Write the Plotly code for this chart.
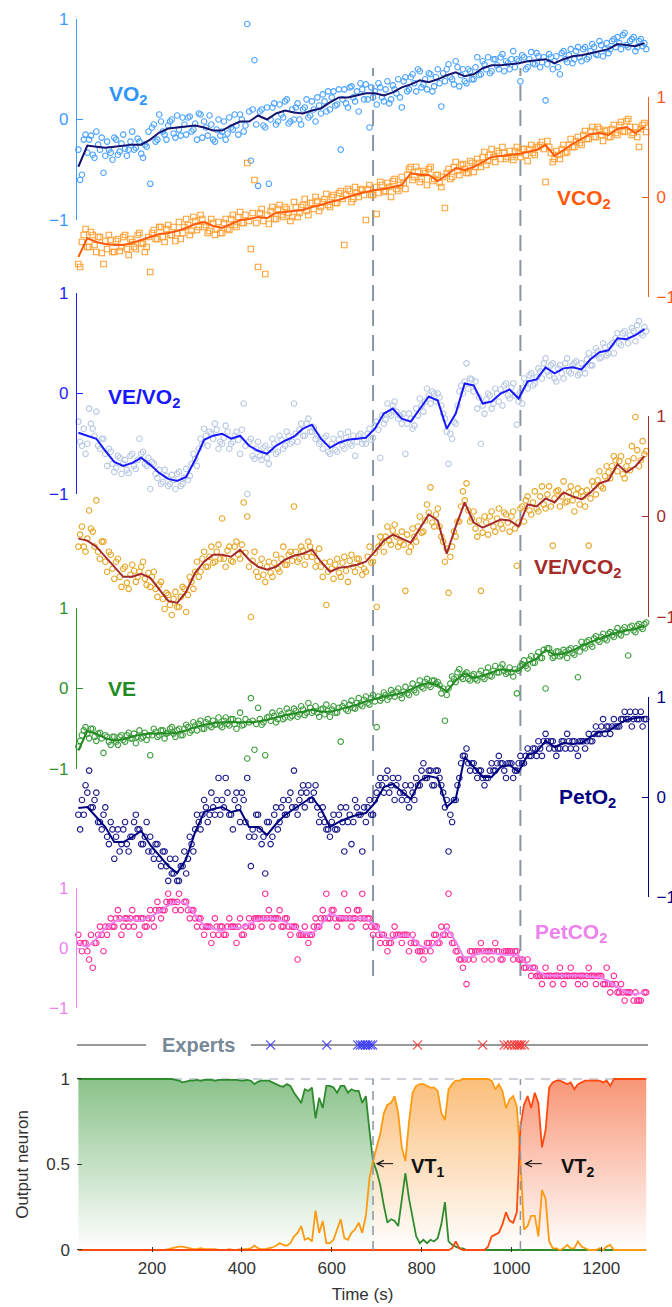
import plotly.graph_objects as go

# ---------------- time grids ----------------
T_PTS = list(range(36, 1301, 8))    # breath samples, set A (159)
T_PTS2 = list(range(40, 1297, 8))   # breath samples, set B (158)
T_LINE = list(range(36, 1297, 20))  # smoothed curves (64)
T_OUT = list(range(36, 1301, 8))    # output neurons (159)

# ---------------- VO2 ----------------
VO2_PTS = [
    -0.3, -0.55, -0.15, -0.2, -0.35, -0.12, -0.3, -0.53, -0.22, -0.33,
    -0.18, -0.35, -0.24, -0.29, -0.3, -0.12, -0.28, -0.22, -0.38, -0.27,
    -0.64, -0.05, -0.2, -0.02, -0.15, -0.06, 0.0, -0.18, -0.1, 0.02,
    -0.15, 0.03, -0.1, -0.2, 0.05, -0.02, -0.16, -0.05, -0.22, 0.0,
    -0.12, -0.2, 0.02, -0.1, -0.06, 0.05, -0.12, 0.95, -0.41, 0.59,
    -0.66, 0.1, -0.08, -0.64, 0.12, -0.05, 0.15, 0.02, 0.2, -0.02,
    0.0, 0.16, -0.05, 0.12, 0.02, 0.18, -0.02, 0.14, 0.25, 0.08,
    0.1, 0.28, 0.15, -0.3, 0.3, 0.12, 0.33, 0.18, 0.08, 0.3,
    0.35, -0.08, 0.22, 0.15, 0.32, 0.18, 0.38, 0.2, 0.3, 0.4,
    0.12, 0.42, 0.3, 0.45, 0.28, 0.48, 0.35, 0.3, 0.45, 0.33,
    0.5, 0.13, 0.38, 0.55, 0.4, 0.58, 0.33, 0.5, 0.36, 0.48,
    0.4, 0.62, 0.45, 0.55, 0.62, 0.48, 0.6, 0.5, 0.65, 0.58,
    0.5, 0.68, 0.6, 0.38, 0.62, 0.52, 0.67, 0.55, 0.63, 0.57,
    0.19, 0.65, 0.5, 0.63, 0.45, 0.68, 0.57, 0.7, 0.6, 0.72,
    0.58, 0.72, 0.62, 0.75, 0.65, 0.78, 0.63, 0.76, 0.7, 0.8,
    0.82, 0.7, 0.86, 0.72, 0.8, 0.68, 0.78, 0.73, 0.7]
VO2_PTS2 = [
    -0.6, -0.2, -0.33, -0.16, -0.38, -0.25, -0.18, -0.36, -0.3, -0.4,
    -0.2, -0.32, -0.15, -0.36, -0.22, -0.3, -0.19, -0.34, -0.25, -0.12,
    -0.08, -0.22, 0.05, -0.12, -0.2, -0.02, -0.14, 0.04, -0.16, -0.05,
    0.02, -0.12, -0.04, 0.06, -0.18, -0.08, 0.04, -0.2, -0.1, -0.16,
    -0.02, -0.14, -0.08, 0.05, -0.15, 0.0, -0.06, 0.08, 0.1, -0.05,
    0.08, -0.06, 0.12, 0.0, 0.16, -0.02, 0.05, 0.18, -0.04, 0.1,
    0.12, 0.0, 0.1, 0.2, 0.04, 0.1, 0.22, 0.06, 0.18, 0.28,
    0.22, 0.14, 0.3, 0.2, 0.16, 0.32, 0.22, 0.28, 0.36, 0.2,
    0.2, 0.32, 0.28, 0.36, 0.22, 0.3, 0.16, 0.34, 0.26, 0.22,
    0.38, 0.28, 0.42, 0.36, 0.5, 0.32, 0.4, 0.46, 0.28, 0.42,
    0.36, 0.46, 0.5, 0.42, 0.35, 0.52, 0.44, 0.38, 0.5, 0.4,
    0.52, 0.44, 0.58, 0.5, 0.46, 0.6, 0.54, 0.62, 0.48, 0.56,
    0.6, 0.52, 0.58, 0.64, 0.5, 0.6, 0.56, 0.66, 0.52, 0.62,
    0.55, 0.62, 0.58, 0.52, 0.66, 0.6, 0.64, 0.56, 0.68, 0.62,
    0.7, 0.6, 0.68, 0.72, 0.64, 0.74, 0.7, 0.66, 0.78, 0.72,
    0.76, 0.84, 0.74, 0.78, 0.82, 0.72, 0.8, 0.76]
VO2_LINE = [
    -0.47, -0.26, -0.27, -0.28, -0.27, -0.26, -0.25, -0.25, -0.2, -0.13,
    -0.09, -0.08, -0.07, -0.06, -0.08, -0.11, -0.11, -0.06, -0.02, -0.02,
    0.04, 0.0, 0.06, 0.09, 0.07, 0.06, 0.09, 0.11, 0.17, 0.22,
    0.22, 0.24, 0.26, 0.26, 0.24, 0.27, 0.32, 0.35, 0.39, 0.37,
    0.4, 0.44, 0.47, 0.43, 0.45, 0.51, 0.54, 0.54, 0.55, 0.56,
    0.58, 0.59, 0.6, 0.56, 0.6, 0.63, 0.64, 0.66, 0.68, 0.7,
    0.75, 0.74, 0.73, 0.76]

# ---------------- VCO2 ----------------
VCO2_PTS = [
    -0.67, -0.45, -0.32, -0.5, -0.38, -0.55, -0.4, -0.67, -0.52, -0.43,
    -0.55, -0.42, -0.5, -0.38, -0.58, -0.45, -0.52, -0.36, -0.47, -0.5,
    -0.75, -0.33, -0.42, -0.3, -0.45, -0.28, -0.38, -0.44, -0.25, -0.36,
    -0.22, -0.38, -0.2, -0.33, -0.18, -0.3, -0.36, -0.22, -0.38, -0.25,
    -0.36, -0.22, -0.33, -0.18, -0.3, -0.15, -0.26, 0.34, -0.52, 0.17,
    -0.7, -0.12, -0.77, -0.27, -0.1, -0.22, -0.08, -0.2, -0.12, -0.24,
    -0.05, -0.2, -0.1, -0.02, -0.18, -0.06, 0.0, -0.14, -0.05, 0.03,
    -0.1, 0.02, -0.06, 0.06, -0.48, 0.08, -0.05, 0.1, 0.0, 0.07,
    -0.23, 0.12, 0.02, -0.17, 0.15, 0.05, 0.14, 0.0, 0.18, 0.06,
    0.2, 0.08, 0.28, 0.17, 0.3, 0.15, 0.26, 0.12, 0.3, 0.18,
    0.22, 0.1, -0.11, 0.28, 0.2, 0.35, 0.22, 0.33, 0.24, 0.36,
    0.25, 0.38, 0.3, 0.45, 0.36, 0.48, 0.35, 0.44, 0.5, 0.38,
    0.46, 0.37, 0.5, 0.4, 0.48, 0.36, 0.52, 0.42, 0.5, 0.55,
    0.15, 0.5, 0.35, 0.46, 0.38, 0.52, 0.45, 0.58, 0.5, 0.6,
    0.52, 0.66, 0.58, 0.7, 0.6, 0.68, 0.56, 0.67, 0.6, 0.72,
    0.62, 0.75, 0.65, 0.78, 0.62, 0.7, 0.5, 0.72, 0.65]
VCO2_PTS2 = [
    -0.7, -0.38, -0.5, -0.35, -0.48, -0.4, -0.56, -0.44, -0.38, -0.55,
    -0.44, -0.54, -0.4, -0.52, -0.42, -0.5, -0.38, -0.46, -0.55, -0.4,
    -0.36, -0.42, -0.3, -0.4, -0.32, -0.38, -0.3, -0.36, -0.42, -0.3,
    -0.28, -0.34, -0.24, -0.3, -0.22, -0.28, -0.34, -0.26, -0.32, -0.36,
    -0.26, -0.32, -0.22, -0.28, -0.2, -0.26, -0.18, -0.24, -0.16, -0.26,
    -0.16, -0.24, -0.18, -0.14, -0.22, -0.12, -0.18, -0.1, -0.16, -0.2,
    -0.1, -0.16, -0.08, -0.14, -0.06, -0.12, -0.04, -0.1, -0.02, -0.08,
    0.0, -0.06, 0.04, -0.02, 0.02, 0.06, -0.02, 0.04, 0.08, 0.02,
    0.08, 0.02, 0.1, 0.04, 0.12, 0.06, 0.1, 0.16, 0.08, 0.12,
    0.14, 0.22, 0.3, 0.2, 0.26, 0.18, 0.24, 0.28, 0.16, 0.22,
    0.14, 0.2, 0.24, 0.18, 0.3, 0.26, 0.32, 0.28, 0.24, 0.34,
    0.3, 0.34, 0.4, 0.32, 0.42, 0.4, 0.46, 0.38, 0.44, 0.4,
    0.4, 0.46, 0.44, 0.48, 0.42, 0.48, 0.44, 0.5, 0.52, 0.48,
    0.56, 0.44, 0.38, 0.42, 0.48, 0.44, 0.52, 0.5, 0.56, 0.54,
    0.62, 0.58, 0.66, 0.6, 0.7, 0.62, 0.66, 0.6, 0.68, 0.64,
    0.72, 0.66, 0.76, 0.7, 0.64, 0.6, 0.68, 0.74]
VCO2_LINE = [
    -0.6, -0.41, -0.45, -0.47, -0.48, -0.48, -0.46, -0.43, -0.4, -0.37,
    -0.36, -0.34, -0.31, -0.27, -0.25, -0.29, -0.31, -0.27, -0.23, -0.22,
    -0.2, -0.21, -0.16, -0.15, -0.14, -0.13, -0.1, -0.08, -0.05, -0.03,
    0.0, 0.03, 0.05, 0.07, 0.08, 0.1, 0.12, 0.24, 0.22, 0.22,
    0.16, 0.22, 0.29, 0.27, 0.3, 0.35, 0.4, 0.41, 0.42, 0.43,
    0.45, 0.47, 0.52, 0.41, 0.47, 0.53, 0.58, 0.63, 0.64, 0.62,
    0.68, 0.7, 0.64, 0.7]

# ---------------- VE/VO2 ----------------
VEVO2_PTS = [
    -0.28, -0.52, -0.6, -0.15, -0.35, -0.18, -0.55, -0.45, -0.72, -0.58,
    -0.78, -0.62, -0.8, -0.66, -0.79, -0.6, -0.75, -0.45, -0.58, -0.72,
    -0.95, -0.7, -0.84, -0.9, -0.76, -0.92, -0.81, -0.95, -0.78, -0.9,
    -0.75, -0.82, -0.6, -0.72, -0.45, -0.35, -0.52, -0.4, -0.3, -0.55,
    -0.5, -0.32, -0.55, -0.48, -0.38, -0.6, -0.1, -1.0, -0.45, -0.65,
    -0.48, -0.66, -0.52, -0.7, -0.45, -0.6, -0.42, -0.55, -0.38, -0.5,
    -0.1, -0.48, -0.3, -0.42, -0.25, -0.38, -0.45, -0.5, -0.55, -0.42,
    -0.6, -0.45, -0.58, -0.4, -0.55, -0.38, -0.52, -0.62, -0.42, -0.5,
    -0.5, -0.35, -0.44, -0.28, -0.64, -0.3, -0.1, -0.22, -0.08, -0.25,
    -0.3, -0.6, -0.2, -0.35, -0.15, -0.05, -0.18, 0.05, -0.1, 0.0,
    0.0, -0.12, -0.25, -0.7, -0.45, -0.3, 0.02, 0.0, 0.3, 0.15,
    0.02, -0.15, -0.5, -0.2, 0.0, -0.15, 0.05, -0.08, -0.12, 0.1,
    -0.05, 0.1, -0.31, 0.02, 0.15, 0.05, 0.2, 0.1, 0.25, 0.15,
    0.35, 0.18, 0.3, 0.12, 0.28, 0.15, 0.35, 0.2, 0.3, 0.18,
    0.3, 0.2, 0.4, 0.28, 0.45, 0.35, 0.5, 0.38, 0.48, 0.4,
    0.6, 0.48, 0.62, 0.5, 0.65, 0.52, 0.72, 0.58, 0.62]
VEVO2_PTS2 = [
    -0.48, -0.35, -0.5, -0.3, -0.42, -0.52, -0.45, -0.6, -0.55, -0.7,
    -0.74, -0.64, -0.7, -0.76, -0.62, -0.72, -0.66, -0.6, -0.7, -0.64,
    -0.68, -0.8, -0.76, -0.88, -0.82, -0.9, -0.86, -0.8, -0.92, -0.84,
    -0.86, -0.7, -0.65, -0.55, -0.5, -0.42, -0.38, -0.45, -0.36, -0.48,
    -0.44, -0.38, -0.5, -0.42, -0.46, -0.36, -0.52, -0.48, -0.62, -0.55,
    -0.62, -0.54, -0.64, -0.56, -0.5, -0.58, -0.46, -0.52, -0.42, -0.48,
    -0.4, -0.36, -0.42, -0.3, -0.38, -0.34, -0.42, -0.48, -0.44, -0.58,
    -0.5, -0.56, -0.46, -0.52, -0.44, -0.5, -0.42, -0.48, -0.4, -0.46,
    -0.4, -0.46, -0.32, -0.36, -0.22, -0.26, -0.2, -0.12, -0.18, -0.22,
    -0.2, -0.3, -0.25, -0.32, -0.22, -0.12, -0.08, -0.02, 0.02, -0.08,
    -0.04, -0.2, -0.38, -0.4, -0.28, -0.12, 0.08, 0.12, 0.05, 0.14,
    0.12, -0.04, -0.12, -0.06, -0.02, -0.1, 0.0, 0.04, 0.08, -0.02,
    0.06, -0.02, -0.08, -0.1, 0.1, 0.18, 0.08, 0.16, 0.22, 0.3,
    0.22, 0.28, 0.15, 0.25, 0.2, 0.3, 0.22, 0.28, 0.32, 0.2,
    0.25, 0.34, 0.28, 0.38, 0.42, 0.36, 0.46, 0.4, 0.5, 0.55,
    0.5, 0.6, 0.55, 0.58, 0.62, 0.68, 0.6, 0.66]
VEVO2_LINE = [
    -0.39, -0.42, -0.45, -0.57, -0.68, -0.72, -0.69, -0.64, -0.71, -0.79,
    -0.85, -0.87, -0.83, -0.66, -0.46, -0.42, -0.4, -0.45, -0.42, -0.52,
    -0.57, -0.6, -0.52, -0.47, -0.43, -0.35, -0.31, -0.45, -0.54, -0.49,
    -0.46, -0.45, -0.44, -0.35, -0.2, -0.15, -0.25, -0.28, -0.15, -0.03,
    -0.07, -0.35, -0.2, 0.1, 0.08, -0.1, -0.08, 0.0, 0.04, -0.05,
    0.12, 0.14, 0.26, 0.2, 0.25, 0.26, 0.24, 0.34, 0.41, 0.43,
    0.55, 0.54, 0.58, 0.64]

# ---------------- VE/VCO2 ----------------
VEVCO2_PTS = [
    -0.3, -0.1, -0.35, 0.06, -0.15, 0.16, -0.42, -0.25, -0.55, -0.38,
    -0.62, -0.42, -0.7, -0.5, -0.72, -0.48, -0.65, -0.55, -0.45, -0.68,
    -0.7, -0.55, -0.8, -0.65, -0.92, -0.78, -0.98, -0.75, -0.9, -0.7,
    -0.95, -0.6, -0.72, -0.45, -0.55, -0.35, -0.5, -0.3, -0.45, -0.28,
    -0.02, -0.5, -0.3, -0.45, -0.25, -0.42, 0.14, 0.0, -1.0, -0.35,
    -0.6, -0.42, -0.65, -0.45, -0.6, -0.38, -0.55, -0.3, -0.48, -0.35,
    0.1, -0.45, -0.3, -0.48, -0.25, -0.4, -0.5, -0.32, -0.6, -0.88,
    -0.45, -0.62, -0.42, -0.6, -0.4, -0.65, -0.38, -0.55, -0.42, -0.58,
    -0.55, -0.3, -0.45, -0.9, -0.2, -0.35, -0.1, -0.28, -0.08, -0.3,
    -0.15, -0.74, -0.35, -0.12, -0.25, 0.0, -0.15, 0.12, 0.29, -0.1,
    0.08, -0.2, -0.45, -0.76, -0.3, -0.2, -0.05, 0.25, 0.33, -0.05,
    0.05, -0.2, -0.74, 0.0, -0.18, 0.05, -0.15, 0.08, -0.12, 0.02,
    -0.15, 0.05, -0.49, 0.08, -0.05, 0.2, 0.02, 0.25, 0.05, 0.3,
    0.08, 0.3, -0.29, 0.25, 0.1, 0.35, 0.15, 0.3, 0.05, 0.28,
    0.25, 0.1, -0.29, 0.35, 0.22, 0.45, 0.28, 0.5, 0.38, 0.6,
    0.45, 0.6, 0.38, 0.55, 0.7, 0.99, 0.5, 0.75, 0.65]
VEVCO2_PTS2 = [
    -0.18, -0.3, -0.22, -0.12, -0.3, -0.35, -0.25, -0.45, -0.35, -0.52,
    -0.45, -0.6, -0.52, -0.66, -0.58, -0.54, -0.6, -0.5, -0.62, -0.56,
    -0.6, -0.72, -0.68, -0.82, -0.76, -0.88, -0.82, -0.9, -0.8, -0.72,
    -0.78, -0.65, -0.55, -0.6, -0.42, -0.5, -0.4, -0.46, -0.35, -0.42,
    -0.42, -0.34, -0.44, -0.3, -0.38, -0.28, -0.36, -0.5, -0.44, -0.55,
    -0.48, -0.58, -0.5, -0.56, -0.46, -0.52, -0.42, -0.48, -0.38, -0.44,
    -0.35, -0.42, -0.34, -0.4, -0.3, -0.36, -0.44, -0.5, -0.46, -0.55,
    -0.52, -0.48, -0.56, -0.46, -0.54, -0.44, -0.5, -0.42, -0.48, -0.52,
    -0.4, -0.46, -0.36, -0.3, -0.26, -0.2, -0.24, -0.14, -0.2, -0.26,
    -0.28, -0.18, -0.3, -0.2, -0.1, -0.16, -0.04, 0.04, -0.06, 0.02,
    -0.1, -0.25, -0.32, -0.4, -0.15, -0.05, 0.1, 0.16, 0.06, -0.02,
    -0.12, -0.04, -0.16, -0.06, 0.0, -0.1, -0.02, -0.08, 0.04, -0.06,
    0.0, -0.12, -0.06, 0.1, 0.16, 0.06, 0.14, 0.08, 0.2, 0.12,
    0.22, 0.1, 0.18, 0.26, 0.2, 0.14, 0.24, 0.16, 0.22, 0.12,
    0.2, 0.26, 0.18, 0.3, 0.36, 0.3, 0.4, 0.44, 0.5, 0.56,
    0.55, 0.42, 0.5, 0.46, 0.58, 0.66, 0.56, 0.62]
VEVCO2_LINE = [
    -0.22, -0.24, -0.3, -0.4, -0.5, -0.6, -0.6, -0.57, -0.61, -0.72,
    -0.84, -0.86, -0.75, -0.56, -0.45, -0.38, -0.38, -0.4, -0.33, -0.43,
    -0.5, -0.53, -0.5, -0.43, -0.39, -0.37, -0.33, -0.45, -0.55, -0.51,
    -0.5, -0.48, -0.45, -0.35, -0.24, -0.18, -0.22, -0.26, -0.12, 0.02,
    -0.04, -0.37, -0.1, 0.14, -0.06, -0.11, -0.07, -0.03, -0.04, -0.1,
    0.12, 0.1, 0.18, 0.14, 0.24, 0.2, 0.17, 0.24, 0.33, 0.36,
    0.52, 0.44, 0.5, 0.6]

# ---------------- VE ----------------
VE_PTS = [
    -0.72, -0.58, -0.48, -0.62, -0.5, -0.65, -0.55, -0.8, -0.6, -0.7,
    -0.6, -0.7, -0.58, -0.66, -0.55, -0.62, -0.68, -0.52, -0.6, -0.64,
    -0.83, -0.5, -0.6, -0.52, -0.62, -0.55, -0.48, -0.6, -0.5, -0.58,
    -0.45, -0.55, -0.42, -0.52, -0.4, -0.5, -0.38, -0.48, -0.45, -0.36,
    -0.48, -0.36, -0.46, -0.38, -0.5, -0.3, -0.45, -0.87, -0.12, -0.76,
    -0.24, -0.45, -0.83, -0.35, -0.3, -0.42, -0.28, -0.38, -0.25, -0.36,
    -0.25, -0.35, -0.22, -0.33, -0.18, -0.3, -0.22, -0.35, -0.25, -0.2,
    -0.35, -0.22, -0.3, -0.66, -0.18, -0.28, -0.15, -0.25, -0.12, -0.22,
    -0.1, -0.2, -0.08, -0.48, -0.15, -0.05, -0.14, -0.02, -0.1, 0.0,
    -0.12, 0.02, -0.08, 0.06, -0.05, 0.1, 0.0, 0.12, 0.02, 0.1,
    0.08, -0.06, -0.4, 0.0, 0.15, 0.08, 0.24, 0.12, 0.2, 0.1,
    0.18, 0.1, 0.22, 0.12, 0.26, 0.15, 0.28, 0.2, 0.3, 0.18,
    0.26, 0.15, -0.06, 0.28, 0.35, 0.25, 0.4, 0.32, 0.45, 0.38,
    0.0, 0.5, 0.38, 0.46, 0.4, 0.48, 0.38, 0.5, 0.42, 0.14,
    0.58, 0.5, 0.6, 0.52, 0.65, 0.58, 0.68, 0.6, 0.7, 0.64,
    0.75, 0.66, 0.76, 0.41, 0.78, 0.7, 0.8, 0.74, 0.82]
VE_PTS2 = [
    -0.65, -0.52, -0.56, -0.5, -0.6, -0.56, -0.62, -0.58, -0.66, -0.6,
    -0.66, -0.6, -0.64, -0.58, -0.62, -0.56, -0.6, -0.62, -0.55, -0.58,
    -0.58, -0.54, -0.58, -0.52, -0.56, -0.5, -0.56, -0.52, -0.58, -0.5,
    -0.48, -0.52, -0.46, -0.44, -0.5, -0.42, -0.46, -0.4, -0.44, -0.46,
    -0.4, -0.44, -0.38, -0.44, -0.4, -0.46, -0.38, -0.42, -0.4, -0.44,
    -0.38, -0.42, -0.36, -0.4, -0.34, -0.38, -0.32, -0.36, -0.3, -0.34,
    -0.28, -0.32, -0.26, -0.3, -0.24, -0.28, -0.3, -0.26, -0.32, -0.28,
    -0.26, -0.3, -0.24, -0.22, -0.26, -0.2, -0.24, -0.18, -0.2, -0.14,
    -0.18, -0.12, -0.16, -0.1, -0.12, -0.08, -0.1, -0.06, -0.04, -0.08,
    -0.04, -0.06, 0.0, -0.02, 0.04, 0.02, 0.08, 0.04, 0.1, 0.06,
    0.04, 0.0, -0.08, 0.06, 0.12, 0.2, 0.14, 0.18, 0.12, 0.16,
    0.12, 0.18, 0.14, 0.2, 0.16, 0.22, 0.2, 0.26, 0.22, 0.2,
    0.2, 0.24, 0.22, 0.3, 0.28, 0.36, 0.32, 0.4, 0.38, 0.48,
    0.5, 0.44, 0.4, 0.46, 0.42, 0.45, 0.48, 0.44, 0.5, 0.46,
    0.52, 0.58, 0.55, 0.62, 0.6, 0.64, 0.62, 0.68, 0.66, 0.7,
    0.68, 0.73, 0.7, 0.76, 0.72, 0.78, 0.76, 0.8]
VE_LINE = [
    -0.77, -0.53, -0.56, -0.62, -0.65, -0.63, -0.6, -0.57, -0.56, -0.56,
    -0.56, -0.55, -0.52, -0.48, -0.45, -0.43, -0.42, -0.42, -0.42, -0.42,
    -0.41, -0.39, -0.36, -0.33, -0.31, -0.29, -0.26, -0.29, -0.29, -0.26,
    -0.23, -0.2, -0.16, -0.13, -0.1, -0.08, -0.06, -0.01, 0.04, 0.07,
    0.04, -0.04, 0.1, 0.19, 0.13, 0.16, 0.2, 0.24, 0.22, 0.22,
    0.32, 0.37, 0.48, 0.42, 0.43, 0.47, 0.53, 0.58, 0.62, 0.66,
    0.7, 0.72, 0.74, 0.78]

# ---------------- PetO2 (quantised: level index) ----------------
PETO2_LEVEL0 = -0.03
PETO2_STEP = 0.0735
PETO2_LEVELS = [
    -2, 0, 2, 4, -1, 1, -3, -2, -5, -3,
    -8, -4, -6, -3, -7, -5, -2, -4, -6, -3,
    -5, -8, -6, -9, -7, -11, -10, -8, -11, -9,
    -10, -5, -7, -2, -4, 0, -3, 1, -2, 3,
    0, 3, -2, -4, 1, -3, 0, 3, -9, -5,
    -2, -6, -10, -3, -5, -1, -3, 0, -2, 1,
    4, -2, 1, -1, 2, 0, 2, -3, -1, -4,
    -5, -2, -4, -1, -7, -3, -6, 0, -2, -7,
    -3, 0, -2, 1, 3, 1, 4, 2, 0, 3,
    0, 2, -1, 1, 3, 2, 5, 3, 4, 2,
    4, 2, -1, -7, -3, 0, 3, 6, 7, 4,
    5, 3, 4, 2, 3, 5, 4, 6, 5, 3,
    5, 3, 4, 6, 5, 7, 6, 7, 8, 6,
    9, 7, 8, 6, 7, 8, 9, 7, 8, 6,
    8, 7, 9, 8, 10, 9, 11, 10, 9, 11,
    10, 11, 12, 11, 10, 12, 11, 10, 11]
PETO2_LEVELS2 = [
    -4, -2, 1, -1, 0, -3, -4, -1, -6, -4,
    -5, -7, -4, -6, -5, -3, -4, -6, -5, -7,
    -7, -6, -8, -7, -9, -8, -10, -11, -9, -7,
    -8, -6, -4, -3, -2, -1, -2, -1, 0, -2,
    -1, 1, -2, 0, -1, 1, -3, -5, -4, -2,
    -4, -5, -3, -6, -2, -4, -1, -2, 0, -1,
    -1, 0, 2, 1, 0, 1, -1, -2, -3, -4,
    -3, -4, -2, -3, -1, -2, -3, -1, -2, -1,
    -1, -2, 0, 2, 2, 3, 1, 3, 2, 1,
    1, 0, 2, 0, 2, 4, 3, 4, 2, 4,
    3, 1, 0, -2, 0, 2, 5, 6, 5, 5,
    4, 4, 3, 3, 4, 4, 5, 5, 4, 5,
    5, 4, 5, 5, 6, 6, 7, 6, 7, 8,
    8, 8, 7, 7, 8, 7, 8, 8, 7, 8,
    8, 8, 8, 9, 9, 10, 9, 10, 10, 10,
    10, 11, 11, 12, 11, 11, 12, 11]
PETO2_LINE = [
    -0.11, -0.1, -0.2, -0.3, -0.45, -0.45, -0.4, -0.34, -0.48, -0.59,
    -0.69, -0.76, -0.62, -0.35, -0.15, -0.12, -0.1, -0.15, -0.13, -0.3,
    -0.3, -0.38, -0.27, -0.18, -0.12, -0.06, 0.0, -0.12, -0.3, -0.25,
    -0.21, -0.18, -0.16, -0.06, 0.1, 0.13, 0.05, -0.02, 0.16, 0.21,
    0.19, -0.1, -0.02, 0.4, 0.3, 0.2, 0.2, 0.3, 0.32, 0.25,
    0.42, 0.45, 0.56, 0.5, 0.54, 0.53, 0.54, 0.6, 0.65, 0.66,
    0.72, 0.77, 0.79, 0.8]

# ---------------- PetCO2 (quantised: level index) ----------------
PETCO2_LEVEL0 = 0.083
PETCO2_STEP = 0.137
PETCO2_LEVELS = [
    1, -1, 0, -2, -3, 0, 2, -1, 1, 3,
    2, 4, 1, 3, 2, 4, 3, 1, 3, 2,
    4, 2, 5, 3, 4, 6, 5, 4, 6, 7,
    5, 3, 4, 2, 3, 1, 2, 0, 3, 1,
    2, 1, 3, 2, 0, 3, 1, 7, 2, 3,
    3, 2, 6, 4, 2, 3, 4, 2, 3, 1,
    2, -2, 1, 2, 0, 1, 3, 2, 4, 6,
    3, 4, 2, 3, 6, 4, 2, 3, 4, 6,
    2, 3, 1, 2, 0, 1, -1, 0, 2, 1,
    0, 1, -1, 1, 0, -1, -2, 0, -1, 1,
    0, 2, 1, 6, 0, -1, -2, -3, -5, -1,
    -2, -1, 0, -2, -1, -2, 0, -1, -2, -1,
    -1, -2, -1, -2, -3, -2, -4, -3, -4, -5,
    -3, -4, -5, -4, -3, -5, -4, -3, -4, -5,
    -4, -5, -3, -4, -5, -4, -5, -3, -6, -4,
    -6, -5, -7, -6, -8, -6, -7, -8, -6]
PETCO2_LEVELS2 = [
    0, 0, -1, 1, 0, 1, 1, 2, 2, 2,
    3, 3, 2, 3, 3, 2, 3, 3, 2, 3,
    3, 4, 4, 4, 5, 5, 5, 5, 4, 5,
    4, 4, 3, 3, 2, 2, 2, 1, 2, 2,
    1, 2, 2, 2, 2, 1, 2, 3, 2, 3,
    3, 3, 3, 3, 3, 3, 2, 3, 2, 2,
    2, 1, 1, 1, 1, 2, 2, 3, 3, 3,
    4, 3, 3, 3, 3, 3, 3, 4, 3, 3,
    3, 2, 2, 1, 1, 0, 0, 1, 1, 1,
    1, 1, 0, 0, -1, -1, -1, 0, 0, 1,
    0, 1, 2, 1, 0, -1, -2, -2, -2, -1,
    -1, -1, -1, -1, -1, -1, -1, -2, -1, -1,
    -1, -1, -2, -2, -3, -3, -3, -4, -4, -4,
    -4, -4, -4, -4, -4, -4, -4, -4, -4, -4,
    -4, -4, -4, -4, -4, -4, -5, -5, -5, -5,
    -6, -6, -6, -6, -7, -7, -7, -6]
PETCO2_LINE = [
    0.08, 0.015, 0.15, 0.33, 0.44, 0.49, 0.47, 0.45, 0.52, 0.6,
    0.71, 0.77, 0.74, 0.56, 0.37, 0.32, 0.29, 0.34, 0.33, 0.4,
    0.47, 0.49, 0.48, 0.44, 0.34, 0.26, 0.23, 0.38, 0.58, 0.52,
    0.49, 0.49, 0.49, 0.38, 0.18, 0.15, 0.21, 0.19, 0.04, -0.01,
    0.11, 0.33, 0.11, -0.19, -0.12, -0.07, -0.07, -0.11, -0.11, -0.12,
    -0.29, -0.37, -0.46, -0.46, -0.46, -0.46, -0.46, -0.48, -0.49, -0.55,
    -0.66, -0.73, -0.77, -0.74]

# ---------------- Experts ----------------
EXPERT_VT1 = [464, 589, 658, 664, 669, 675, 680, 686, 691]
EXPERT_VT2 = [791, 936, 984, 992, 1000, 1007, 1013, 1018, 1022, 1029]

# ---------------- Output neurons ----------------
OUT_GREEN = [
    1, 1, 1, 1, 1, 1, 1, 1, 1, 1,
    1, 1, 1, 1, 1, 1, 1, 1, 1, 1,
    1, 1, 1, 1, 1, 1, 1, 0.995, 0.99, 0.98,
    0.985, 0.99, 0.99, 0.995, 0.99, 0.995, 0.995, 0.995, 0.99, 0.995,
    0.995, 0.995, 0.995, 0.995, 0.995, 0.99, 0.99, 0.995, 0.99, 0.97,
    0.985, 0.99, 0.99, 0.99, 0.98, 0.97, 0.96, 0.955, 0.97, 0.96,
    0.92, 0.89, 0.86, 0.94, 0.93, 0.95, 0.77, 0.89, 0.83, 0.96,
    0.96, 0.95, 0.92, 0.96, 0.96, 0.92, 0.94, 0.93, 0.93, 0.86,
    0.9, 0.7, 0.52, 0.46, 0.38, 0.26, 0.16, 0.18, 0.17, 0.14,
    0.3, 0.45, 0.3, 0.18, 0.08, 0.04, 0.06, 0.04, 0.06, 0.05,
    0.07, 0.15, 0.28, 0.05, 0.03, 0.02, 0.01, 0.01, 0.0, 0.0,
    0, 0, 0, 0, 0, 0, 0, 0, 0, 0,
    0, 0, 0, 0, 0, 0, 0, 0, 0, 0,
    0, 0, 0, 0, 0, 0, 0, 0, 0, 0,
    0, 0, 0, 0, 0, 0, 0, 0, 0, 0,
    0, 0, 0, 0, 0, 0, 0, 0, 0]
OUT_ORANGE = [
    0, 0, 0, 0, 0, 0, 0, 0, 0, 0,
    0, 0, 0, 0, 0, 0, 0, 0, 0, 0,
    0, 0, 0, 0, 0, 0.005, 0.01, 0.015, 0.02, 0.02,
    0.015, 0.01, 0.005, 0.005, 0.01, 0.005, 0.005, 0.005, 0.005, 0.0,
    0.0, 0.0, 0.005, 0.0, 0.0, 0.005, 0.005, 0.005, 0.01, 0.025,
    0.01, 0.005, 0.005, 0.01, 0.015, 0.025, 0.04, 0.03, 0.025, 0.04,
    0.08, 0.1, 0.14, 0.06, 0.07, 0.05, 0.23, 0.1, 0.17, 0.04,
    0.04, 0.06, 0.12, 0.18, 0.07, 0.06, 0.1, 0.12, 0.16, 0.1,
    0.2, 0.42, 0.52, 0.6, 0.68, 0.8, 0.85, 0.86, 0.9, 0.8,
    0.6, 0.52, 0.75, 0.92, 0.96, 0.97, 0.97, 0.96, 0.95, 0.95,
    0.93, 0.8, 0.76, 0.94, 0.97, 0.99, 0.99, 1.0, 1.0, 1.0,
    1.0, 1.0, 1.0, 1.0, 1.0, 0.99, 0.94, 0.97, 0.93, 0.83,
    0.88, 0.9, 0.84, 0.53, 0.12, 0.14, 0.2, 0.2, 0.08, 0.35,
    0.3, 0.05, 0.01, 0.01, 0.0, 0.01, 0.03, 0.01, 0.01, 0.05,
    0.02, 0.01, 0.0, 0.0, 0.0, 0.01, 0.0, 0.02, 0.03, 0.0,
    0, 0, 0, 0, 0, 0, 0, 0, 0]
OUT_RED = [
    0, 0, 0, 0, 0, 0, 0, 0, 0, 0,
    0, 0, 0, 0, 0, 0, 0, 0, 0, 0,
    0, 0, 0, 0, 0, 0, 0, 0, 0, 0,
    0, 0, 0, 0, 0, 0, 0, 0, 0, 0,
    0, 0, 0, 0, 0, 0, 0, 0, 0, 0,
    0, 0, 0, 0, 0, 0, 0, 0, 0, 0,
    0, 0, 0, 0, 0, 0, 0, 0, 0, 0,
    0, 0, 0, 0, 0, 0, 0, 0, 0, 0,
    0, 0, 0, 0, 0, 0, 0, 0, 0, 0,
    0, 0, 0, 0, 0, 0, 0, 0, 0, 0,
    0, 0, 0, 0, 0.01, 0.05, 0.01, 0, 0, 0,
    0, 0, 0, 0, 0.02, 0.08, 0.09, 0.1, 0.15, 0.22,
    0.17, 0.16, 0.22, 0.72, 0.85, 0.9, 0.83, 0.92, 0.86, 0.6,
    0.7, 0.95, 0.98, 0.99, 0.99, 0.98, 0.97, 0.98, 0.94, 0.97,
    0.98, 0.99, 0.99, 0.99, 0.99, 0.99, 0.98, 0.99, 0.96, 1.0,
    1.0, 1.0, 1.0, 1.0, 1.0, 1.0, 1.0, 1.0, 1.0]

VT1 = 692
VT2 = 1020
X_RANGE = [33, 1304]

# ---------------- layout helpers ----------------
W, H = 672, 1307
FONT = "Liberation Sans, Arial, sans-serif"


def fx(px):
    return px / W


def fy(py):
    return 1 - py / H


XDOM = [fx(77), fx(648)]


def yspec(top_px, bot_px, side, color):
    return dict(domain=[fy(bot_px), fy(top_px)], range=[-1, 1], side=side, anchor="x",
                automargin=False,
                showline=True, linecolor=color, linewidth=1.3, ticks="inside", ticklen=6,
                tickwidth=1.3, tickcolor=color, tickvals=[-1, 0, 1], ticktext=["\u22121", "0", "1"],
                tickfont=dict(color=color, size=17, family=FONT), showgrid=False, zeroline=False,
                ticklabelstandoff=4)


fig = go.Figure()

series = [
    # pts A, pts B, line, yaxis, marker symbol, marker color, line color
    (VO2_PTS, VO2_PTS2, VO2_LINE, "y", "circle-open", "#4aa3ff", "#14146e"),
    (VCO2_PTS, VCO2_PTS2, VCO2_LINE, "y2", "square-open", "#ffa035", "#ff5a0a"),
    (VEVO2_PTS, VEVO2_PTS2, VEVO2_LINE, "y3", "circle-open", "#b9c9e2", "#1818ff"),
    (VEVCO2_PTS, VEVCO2_PTS2, VEVCO2_LINE, "y4", "circle-open", "#e6a628", "#a52a2a"),
    (VE_PTS, VE_PTS2, VE_LINE, "y5", "circle-open", "#3e9e3e", "#228b22"),
    ([PETO2_LEVEL0 + PETO2_STEP * k for k in PETO2_LEVELS],
     [PETO2_LEVEL0 + PETO2_STEP * k for k in PETO2_LEVELS2], PETO2_LINE, "y6", "circle-open", "#1c1c8c", "#000080"),
    ([PETCO2_LEVEL0 + PETCO2_STEP * k for k in PETCO2_LEVELS],
     [PETCO2_LEVEL0 + PETCO2_STEP * k for k in PETCO2_LEVELS2], PETCO2_LINE, "y7", "circle-open", "#ff2f9a", "#ee82ee"),
]
for pa, pb, line, ya, sym, mc, lc in series:
    fig.add_trace(go.Scatter(x=T_PTS + T_PTS2, y=pa + pb, xaxis="x", yaxis=ya, mode="markers", cliponaxis=False,
                             marker=dict(symbol=sym, size=5.5, color=mc, line=dict(width=1.1, color=mc)),
                             hoverinfo="skip"))
for pa, pb, line, ya, sym, mc, lc in series:
    fig.add_trace(go.Scatter(x=T_LINE, y=line, xaxis="x", yaxis=ya, mode="lines",
                             line=dict(color=lc, width=2), hoverinfo="skip"))

# experts
fig.add_trace(go.Scatter(x=EXPERT_VT1, y=[0] * len(EXPERT_VT1), xaxis="x", yaxis="y9", mode="markers",
                         cliponaxis=False,
                         marker=dict(symbol="x-thin-open", size=9, color="rgba(40,40,255,0.75)",
                                     line=dict(width=1.3, color="rgba(40,40,255,0.75)"))))
fig.add_trace(go.Scatter(x=EXPERT_VT2, y=[0] * len(EXPERT_VT2), xaxis="x", yaxis="y9", mode="markers",
                         cliponaxis=False,
                         marker=dict(symbol="x-thin-open", size=9, color="rgba(255,40,40,0.75)",
                                     line=dict(width=1.3, color="rgba(255,40,40,0.75)"))))

# output neuron fills (segments between thresholds)
seg_g = [(t, v) for t, v in zip(T_OUT, OUT_GREEN) if t <= VT1]
seg_o = [(t, v) for t, v in zip(T_OUT, OUT_ORANGE) if VT1 <= t <= VT2]
seg_r = [(t, v) for t, v in zip(T_OUT, OUT_RED) if t >= VT2]
for seg, top in [(seg_g, "rgb(138,194,138)"), (seg_o, "rgb(251,190,122)"), (seg_r, "rgb(248,150,118)")]:
    fig.add_trace(go.Scatter(x=[a for a, b in seg], y=[b for a, b in seg], xaxis="x2", yaxis="y8",
                             mode="none", fill="tozeroy",
                             fillgradient=dict(type="vertical", start=0, stop=1,
                                               colorscale=[[0, "rgb(255,255,255)"], [1, top]]),
                             hoverinfo="skip"))
for vals, col in [(OUT_GREEN, "#2e8b2e"), (OUT_ORANGE, "#ff9a10"), (OUT_RED, "#ff4a10")]:
    fig.add_trace(go.Scatter(x=T_OUT, y=vals, xaxis="x2", yaxis="y8", mode="lines",
                             line=dict(color=col, width=1.8), hoverinfo="skip"))

# ---------------- shapes ----------------
shapes = []
for vt in (VT1, VT2):
    shapes.append(dict(type="line", xref="x", yref="paper", x0=vt, x1=vt, y0=fy(976), y1=fy(68),
                       line=dict(color="#8a96a3", width=2, dash="16px,9px"), layer="below"))
    shapes.append(dict(type="line", xref="x2", yref="y8", x0=vt, x1=vt, y0=0, y1=1,
                       line=dict(color="#8a96a3", width=1.5, dash="9px,6px"), layer="above"))
shapes.append(dict(type="line", xref="x2", yref="y8", x0=X_RANGE[0], x1=X_RANGE[1], y0=1, y1=1,
                   line=dict(color="#bcc3cb", width=1.5, dash="9px,7px"), layer="below"))
shapes.append(dict(type="line", xref="x", yref="paper", x0=X_RANGE[0], x1=187, y0=fy(1045), y1=fy(1045),
                   line=dict(color="#333333", width=1.2), layer="below"))
shapes.append(dict(type="line", xref="x", yref="paper", x0=420, x1=X_RANGE[1], y0=fy(1045), y1=fy(1045),
                   line=dict(color="#333333", width=1.2), layer="below"))

# ---------------- annotations ----------------
ann = []
labels = [
    ("VO<sub>2</sub>", 107, 95, "#2f95ff"),
    ("VCO<sub>2</sub>", 555, 199, "#ff5a0a"),
    ("VE/VO<sub>2</sub>", 106, 398, "#1818ff"),
    ("VE/VCO<sub>2</sub>", 532, 568, "#a52a2a"),
    ("VE", 106, 688, "#228b22"),
    ("PetO<sub>2</sub>", 557, 798, "#000080"),
    ("PetCO<sub>2</sub>", 533, 933, "#ee82ee"),
]
for txt, px, py, col in labels:
    ann.append(dict(text="<b>" + txt + "</b>", xref="paper", yref="paper", x=fx(px), y=fy(py),
                    xanchor="left", yanchor="middle", showarrow=False,
                    font=dict(family=FONT, size=21, color=col)))
ann.append(dict(text="<b>Experts</b>", xref="x", yref="paper", x=304, y=fy(1045),
                xanchor="center", yanchor="middle", showarrow=False,
                font=dict(family=FONT, size=20, color="#778899")))
# VT arrows and labels
for head, tail, lxp, sub in [(698, 740, 409, "1"), (1028, 1071, 559, "2")]:
    ann.append(dict(text="", x=head, y=0.505, xref="x2", yref="y8", ax=tail, ay=0.505,
                    axref="x2", ayref="y8", showarrow=True, arrowhead=5, arrowsize=1.3,
                    arrowwidth=1, arrowcolor="#111111"))
    ann.append(dict(text="<b>VT<sub>" + sub + "</sub></b>", xref="paper", yref="paper", x=fx(lxp),
                    y=fy(1167), xanchor="left", yanchor="middle", showarrow=False,
                    font=dict(family=FONT, size=20, color="#111111")))

# bottom panel: value 1 at 1079 px, value 0 at 1250 px
PX_PER_UNIT = 1250 - 1079
Y8_DOM = [fy(1250 + 0.012 * PX_PER_UNIT), fy(1079 - 0.012 * PX_PER_UNIT)]

# ---------------- layout ----------------
fig.update_layout(
    width=W, height=H, autosize=False, margin=dict(l=0, r=0, t=0, b=0, autoexpand=False),
    paper_bgcolor="white", plot_bgcolor="rgba(0,0,0,0)", showlegend=False,
    font=dict(family=FONT),
    xaxis=dict(domain=XDOM, range=X_RANGE, visible=False, anchor="y", automargin=False),
    yaxis=yspec(19, 220, "left", "#3d9bff"),
    yaxis2=yspec(97, 297, "right", "#ff5a1e"),
    yaxis3=yspec(293, 494, "left", "#1f1fff"),
    yaxis4=yspec(416, 617, "right", "#a52a2a"),
    yaxis5=yspec(608, 769, "left", "#2e922e"),
    yaxis6=yspec(697, 897, "right", "#000080"),
    yaxis7=yspec(888, 1008, "left", "#ee82ee"),
    yaxis9=dict(domain=[fy(1055), fy(1035)], range=[-1, 1], visible=False, anchor="x", automargin=False),
    xaxis2=dict(domain=XDOM, range=X_RANGE, anchor="y8", showline=False, showgrid=False, zeroline=False,
                automargin=False,
                ticks="inside", ticklen=5, tickcolor="#333333", tickvals=[200, 400, 600, 800, 1000, 1200],
                tickfont=dict(size=17, color="#333333", family=FONT), ticklabelstandoff=4,
                title=dict(text="Time (s)", font=dict(size=17, color="#333333", family=FONT), standoff=11)),
    yaxis8=dict(domain=Y8_DOM, range=[-0.012, 1.012], automargin=False,
                anchor="x2", showline=False, showgrid=False, zeroline=False, ticks="inside", ticklen=5,
                tickcolor="#333333", tickvals=[0, 0.5, 1], ticktext=["0", "0.5", "1"],
                tickfont=dict(size=17, color="#333333", family=FONT), ticklabelstandoff=6,
                title=dict(text="Output neuron", font=dict(size=17, color="#333333", family=FONT), standoff=13)),
    shapes=shapes, annotations=ann,
)

fig.write_html(
    "out.html",
    config={"displayModeBar": False},
    post_script="document.body.style.margin='0';document.body.style.padding='0';"
                "document.documentElement.style.overflow='hidden';document.body.style.overflow='hidden';",
)
